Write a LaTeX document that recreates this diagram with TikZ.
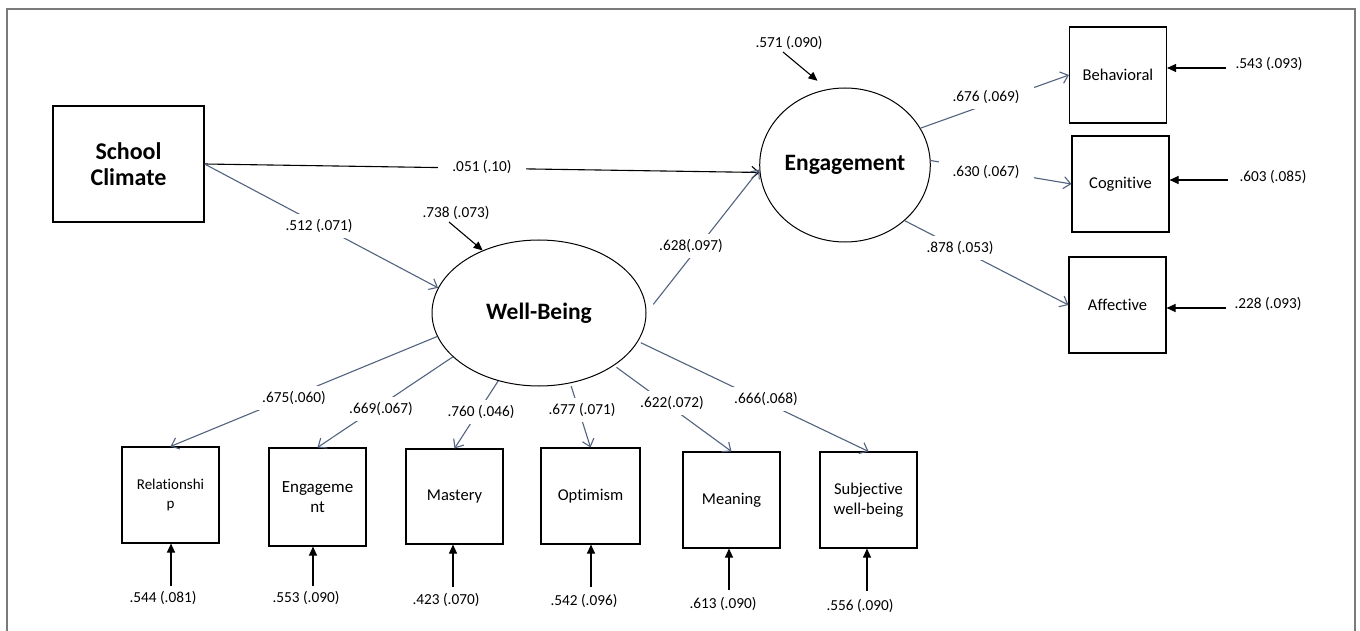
\documentclass[tikz,border=0pt]{standalone}
\usepackage{fontspec}
\setmainfont{Carlito}[Ligatures=NoCommon]
\usetikzlibrary{arrows.meta,shapes.geometric}
\definecolor{loadcol}{HTML}{52627F}
\definecolor{framecol}{HTML}{7A7A7A}
\begin{document}
\begin{tikzpicture}[x=1pt,y=-1pt,
  obs/.style={draw=black,line width=1.1pt,minimum width=97pt,minimum height=96pt,inner sep=0pt,align=center,font=\fontsize{16.5}{19.5}\selectfont},
  latent/.style={draw=black,line width=1pt,ellipse,inner sep=0pt,font=\fontsize{23.5}{26}\selectfont\bfseries},
  lbl/.style={fill=white,inner xsep=10pt,inner ysep=5pt,font=\fontsize{15.3}{18}\selectfont},
  plainlbl/.style={inner sep=0pt,font=\fontsize{15.3}{18}\selectfont},
  load/.style={draw=loadcol,line width=1.1pt,-{Straight Barb[length=7pt,width=12pt]}},
  err/.style={draw=black,line width=1.1pt,-{Triangle[length=9pt,width=8pt]}},
]
\useasboundingbox (0,0) rectangle (1360,631);
\draw[framecol,line width=1.5pt] (7,631) -- (7,9) -- (1355,9) -- (1355,631);

% nodes
\node[obs,minimum width=151pt,minimum height=116pt,font=\fontsize{24}{26}\selectfont\bfseries] (sc) at (128.5,164) {School\\Climate};
\node[latent,minimum width=214pt,minimum height=146pt] (well) at (539,313) {Well-Being};
\node[latent,minimum width=164pt,minimum height=154pt] (eng) at (845,165) {Engagement};
\node[obs] (beh) at (1118,75) {Behavioral};
\node[obs] (cog) at (1120.5,184) {Cognitive};
\node[obs] (aff) at (1117.5,305) {Affective};
\node[obs,font=\fontsize{15}{19}\selectfont] (rel) at (170.5,495) {Relationshi\\p};
\node[obs,minimum height=98pt,font=\fontsize{17}{20}\selectfont] (eng2) at (317.5,497) {Engageme\\nt};
\node[obs,minimum height=95pt] (mas) at (454.5,496.5) {Mastery};
\node[obs,minimum width=99pt] (opt) at (590.5,496) {Optimism};
\node[obs] (mea) at (731.5,500) {Meaning};
\node[obs] (swb) at (868.5,500) {Subjective\\well-being};

% structural paths
\draw[load,draw=black] (sc.east) -- (eng.185);
\draw[load] (sc.east) -- (well.166);
\draw[load,shorten <=11pt] (well.0) -- (eng.183);

% engagement loadings
\draw[load] (eng.26) -- (beh.west);
\draw[load] (eng.3) -- (cog.west);
\draw[load] (eng.317) -- (aff.west);

% well-being loadings
\draw[load] (well.193) -- (rel.north);
\draw[load] (well.207) -- (eng2.north);
\draw[load] (well.239) -- (mas.north);
\draw[load,shorten <=3pt] (well.294) -- (opt.north);
\draw[load,shorten <=3pt] (well.325) -- (mea.north);
\draw[load,shorten <=3pt] (well.344) -- (swb.north);

% disturbances
\coordinate (dwell) at (449,222);
\coordinate (deng) at (783,52);
\draw[err] (dwell) -- (well.132);
\draw[err,shorten >=13pt] (deng) -- (eng.103.5);
\node[plainlbl] (ldwell) at (456,213) {.738 (.073)};
\node[plainlbl] (ldeng) at (789,43) {.571 (.090)};

% right residuals
\coordinate (rbeh) at (1226,68);
\coordinate (rcog) at (1228,180);
\coordinate (raff) at (1226,308);
\draw[err] (rbeh) -- (rbeh -| beh.east);
\draw[err] (rcog) -- (rcog -| cog.east);
\draw[err] (raff) -- (raff -| aff.east);
\node[plainlbl] (lrbeh) at (1269,64) {.543 (.093)};
\node[plainlbl] (lrcog) at (1273,177) {.603 (.085)};
\node[plainlbl] (lraff) at (1268,304) {.228 (.093)};

% bottom residuals
\coordinate (rrel) at (171,586);
\coordinate (reng2) at (313,586);
\coordinate (rmas) at (453,587);
\coordinate (ropt) at (591,587);
\coordinate (rmea) at (729,590);
\coordinate (rswb) at (867,591);
\draw[err] (rrel) -- (rrel |- rel.south);
\draw[err] (reng2) -- (reng2 |- eng2.south);
\draw[err] (rmas) -- (rmas |- mas.south);
\draw[err] (ropt) -- (ropt |- opt.south);
\draw[err] (rmea) -- (rmea |- mea.south);
\draw[err] (rswb) -- (rswb |- swb.south);
\node[plainlbl] (lrrel) at (163,598) {.544 (.081)};
\node[plainlbl] (lreng2) at (306,598) {.553 (.090)};
\node[plainlbl] (lrmas) at (446,600) {.423 (.070)};
\node[plainlbl] (lropt) at (584,601) {.542 (.096)};
\node[plainlbl] (lrmea) at (723,604) {.613 (.090)};
\node[plainlbl] (lrswb) at (860,606) {.556 (.090)};

% path labels (white boxes interrupt the lines)
\node[lbl,inner xsep=14pt] (l051) at (482,167) {.051 (.10)};
\node[lbl] (l512) at (319,226) {.512 (.071)};
\node[lbl] (l628) at (691,246) {.628(.097)};
\node[lbl,inner xsep=14pt] (l676) at (986,97) {.676 (.069)};
\node[lbl,inner xsep=14pt] (l630) at (986,172) {.630 (.067)};
\node[lbl,inner xsep=12pt] (l878) at (960,248) {.878 (.053)};
\node[lbl] (l675) at (294,398) {.675(.060)};
\node[lbl] (l669) at (381,409) {.669(.067)};
\node[lbl] (l760) at (481,412) {.760 (.046)};
\node[lbl] (l677) at (582,410) {.677 (.071)};
\node[lbl] (l622) at (672,403) {.622(.072)};
\node[lbl] (l666) at (766,399) {.666(.068)};
\end{tikzpicture}
\end{document}
